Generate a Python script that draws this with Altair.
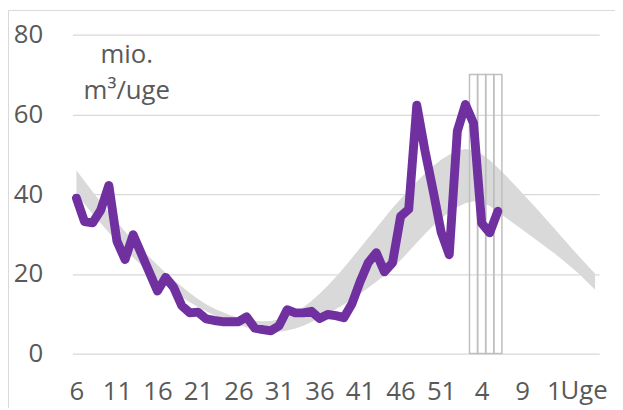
import altair as alt
import pandas as pd

# consecutive week index: 6..52 this year, 53.. = week 1.. of next year
band_weeks = list(range(6, 71))
band_upper = [46.0, 43.3, 40.6, 38.0, 35.4, 33.0, 30.6, 28.3, 26.2, 24.2,
              22.2, 20.3, 18.5, 16.8, 15.2, 13.7, 12.4, 11.3, 10.4, 9.6,
              9.0, 8.5, 8.2, 8.1, 8.2, 8.6, 9.3, 10.3, 11.6, 13.2,
              15.0, 17.0, 19.2, 21.5, 24.0, 26.5, 29.0, 31.5, 34.0, 36.5,
              38.8, 41.0, 43.2, 45.2, 47.0, 48.6, 49.9, 50.9, 51.3, 51.0,
              50.0, 48.5, 46.6, 44.6, 42.5, 40.3, 38.1, 35.9, 33.6, 31.3,
              29.0, 26.7, 24.4, 22.2, 20.0]
band_lower = [40.0, 37.5, 35.0, 32.7, 30.4, 28.2, 26.1, 24.1, 22.2, 20.4,
              18.7, 17.1, 15.6, 14.2, 12.9, 11.7, 10.6, 9.6, 8.7, 7.9,
              7.2, 6.6, 6.1, 5.7, 5.5, 5.5, 5.8, 6.3, 7.0, 7.9,
              9.0, 10.0, 11.1, 12.3, 13.6, 15.0, 16.5, 18.0, 19.6, 21.4,
              23.4, 25.6, 27.8, 30.0, 32.0, 33.9, 35.5, 36.8, 37.7, 38.2,
              38.0, 37.0, 35.6, 34.1, 32.6, 31.1, 29.6, 28.1, 26.6, 25.1,
              23.5, 21.8, 20.0, 18.0, 16.0]

line_weeks = list(range(6, 59))
line_values = [39.0, 33.1, 32.8, 36.0, 42.2, 28.2, 23.6, 29.8, 25.1, 20.4,
               15.7, 19.1, 16.6, 12.0, 10.2, 10.4, 8.7, 8.3, 8.0, 8.0,
               8.0, 9.2, 6.4, 6.0, 5.7, 7.0, 11.0, 10.2, 10.2, 10.6,
               8.8, 9.8, 9.5, 9.0, 12.5, 18.0, 22.8, 25.3, 20.5, 22.8,
               34.4, 36.2, 62.3, 51.0, 41.0, 30.5, 24.8, 55.8, 62.5, 57.8,
               32.7, 30.3, 35.7]

bar_weeks = [55, 56, 57, 58]
bar_values = [70, 70, 70, 70]

x_tick_pos = [6, 11, 16, 21, 26, 31, 36, 41, 46, 51, 56, 61, 66]
x_tick_labels = ["6", "11", "16", "21", "26", "31", "36", "41", "46", "51", "4", "9", "1"]
y_ticks = [0, 20, 40, 60, 80]

unit_line1 = "mio."
unit_line2 = "m³/uge"
x_title = "Uge"

FONT = "Open Sans"
GREY_TXT = "#595959"
W, H = 532, 322

band_df = pd.DataFrame({"week": band_weeks, "lo": band_lower, "hi": band_upper})
line_df = pd.DataFrame({"week": line_weeks, "v": line_values})
bar_df = pd.DataFrame({"week": bar_weeks, "v": bar_values})
bar_df["x0"] = bar_df["week"] - 0.5
bar_df["x1"] = bar_df["week"] + 0.5
one = pd.DataFrame({"a": [0]})

label_expr = " : ".join(f"datum.value == {p} ? '{l}'" for p, l in zip(x_tick_pos, x_tick_labels)) + " : ''"

xscale = alt.Scale(domain=[5.5, 70.5], nice=False, zero=False)
yscale = alt.Scale(domain=[0, 80], nice=False)

xaxis = alt.Axis(values=x_tick_pos, labelExpr=label_expr, grid=False, domain=False,
                 ticks=False, tickSize=0, labelPadding=46, labelBaseline="alphabetic",
                 labelOverlap=False, labelFlush=False, title=None,
                 labelOffset={"condition": {"test": f"datum.value == {x_tick_pos[-1]}", "value": -9},
                              "value": 0})
yaxis = alt.Axis(values=y_ticks, grid=True, gridColor="#d9d9d9", gridWidth=1.3,
                 domain=False, ticks=False, tickSize=0, labelPadding=30, title=None)

band = alt.Chart(band_df).mark_area(color="#d9d9d9", opacity=1).encode(
    x=alt.X("week:Q", scale=xscale, axis=xaxis),
    y=alt.Y("lo:Q", scale=yscale, axis=yaxis),
    y2="hi:Q",
)

bars = alt.Chart(bar_df).mark_rect(fill="transparent", stroke="#bfbfbf", strokeWidth=1.5).encode(
    x=alt.X("x0:Q", scale=xscale),
    x2="x1:Q",
    y=alt.Y("v:Q", scale=yscale),
    y2=alt.datum(0),
)

line = alt.Chart(line_df).mark_line(color="#7030a0", strokeWidth=9, strokeCap="round",
                                    strokeJoin="round").encode(
    x=alt.X("week:Q", scale=xscale),
    y=alt.Y("v:Q", scale=yscale),
)

border = alt.Chart(one).mark_rect(fill="transparent", stroke="#d9d9d9", strokeWidth=1).encode(
    x=alt.value(-64.5), x2=alt.value(W + 200), y=alt.value(-24.5), y2=alt.value(H + 200)
)

uge = alt.Chart(one).mark_text(text=x_title, font=FONT, fontSize=26, color=GREY_TXT,
                               align="left", baseline="alphabetic").encode(
    x=alt.value(493), y=alt.value(H + 46)
)
unit1 = alt.Chart(one).mark_text(text=unit_line1, font=FONT, fontSize=26, color=GREY_TXT,
                                 align="center", baseline="alphabetic").encode(
    x=alt.value(55), y=alt.value(29)
)
unit2 = alt.Chart(one).mark_text(text=unit_line2, font=FONT, fontSize=26, color=GREY_TXT,
                                 align="center", baseline="alphabetic").encode(
    x=alt.value(55), y=alt.value(65)
)

chart = alt.layer(band, bars, line, border, uge, unit1, unit2).properties(
    width=W, height=H,
    autosize=alt.AutoSizeParams(type="none"),
    padding={"left": 65, "top": 25, "right": 16, "bottom": 53},
).configure_view(stroke=None).configure_axis(
    labelFont=FONT, labelFontSize=26, labelColor=GREY_TXT
)

chart.save("out.html", embed_options={"renderer": "svg", "actions": False})
